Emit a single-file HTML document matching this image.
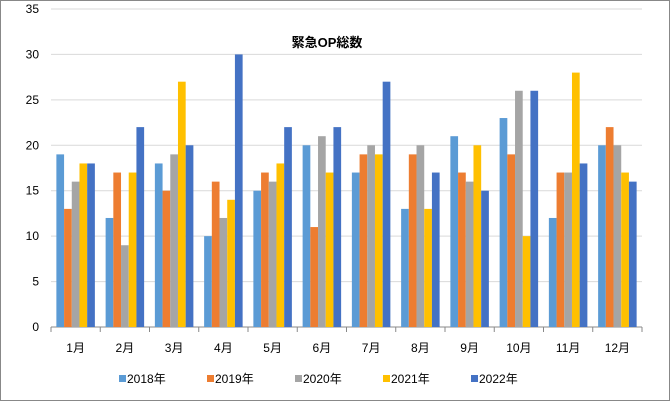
<!DOCTYPE html>
<html><head><meta charset="utf-8"><style>
body{margin:0;background:#fff;}
svg{display:block;font-family:"Liberation Sans","Noto Sans CJK JP",sans-serif;}
</style></head><body>
<svg id="c" width="670" height="401">
<rect x="0.5" y="0.5" width="669" height="400" fill="#fff" stroke="#888"/>
<text x="327" y="47" text-anchor="middle" font-size="13" font-weight="bold">緊急OP総数</text>
<g id="grid"></g><g id="bars"></g><g id="axes"></g><g id="legend"></g>
</svg>
<script>
const categories=["1月","2月","3月","4月","5月","6月","7月","8月","9月","10月","11月","12月"];
const seriesNames=["2018年","2019年","2020年","2021年","2022年"];
const s2018=[19,12,18,10,15,20,17,13,21,23,12,20];
const s2019=[13,17,15,16,17,11,19,19,17,19,17,22];
const s2020=[16,9,19,12,16,21,20,20,16,26,17,20];
const s2021=[18,17,27,14,18,17,19,13,20,10,28,17];
const s2022=[18,22,20,30,22,22,27,17,15,26,18,16];
const yTicks=[0,5,10,15,20,25,30,35];
const series=[s2018,s2019,s2020,s2021,s2022];
const colors=["#5b9bd5","#ed7d31","#a5a5a5","#ffc000","#4472c4"];
const NS="http://www.w3.org/2000/svg";
const L=51,R=642,T=9,B=327,yMax=35;
const y=v=>B-(v/yMax)*(B-T);
const cw=(R-L)/categories.length;
const x=i=>L+i*cw;
function mk(t,a,p){const e=document.createElementNS(NS,t);for(const k in a)e.setAttribute(k,a[k]);p.appendChild(e);return e;}
const g=document.getElementById('grid'),b=document.getElementById('bars'),ax=document.getElementById('axes'),lg=document.getElementById('legend');
yTicks.forEach(v=>{
 const l=mk('line',{x1:L,x2:R,y1:y(v),y2:y(v),stroke:v?'#d9d9d9':'#888'},g);
 
 
 const t=mk('text',{x:L-12,y:y(v)+4,'text-anchor':'end','font-size':12},ax);t.textContent=v;
 
 
});
const bw=7.7,pad=(cw-bw*5)/2;
categories.forEach((c,i)=>{
 series.forEach((s,j)=>{
  const r=mk('rect',{x:x(i)+pad+j*bw,y:y(s[i]),width:bw,height:B-y(s[i]),fill:colors[j]},b);
  
  
 });
 const tk=mk('line',{x1:x(i),x2:x(i),y1:B,y2:B+5,stroke:'#888'},ax);
 
 
 const t=mk('text',{x:x(i)+cw/2,y:352,'text-anchor':'middle','font-size':12},ax);t.textContent=c;
 
 
});
const tk=mk('line',{x1:R,x2:R,y1:B,y2:B+5,stroke:'#888'},ax);


const lx=[119,207,295,383,471];
seriesNames.forEach((n,j)=>{
 const e=mk('g',{},lg);
 
 
 mk('rect',{x:lx[j],y:375,width:7,height:7,fill:colors[j]},e);
 const t=mk('text',{x:lx[j]+8,y:383,'font-size':12},e);t.textContent=n;
});
</script>
</body></html>
